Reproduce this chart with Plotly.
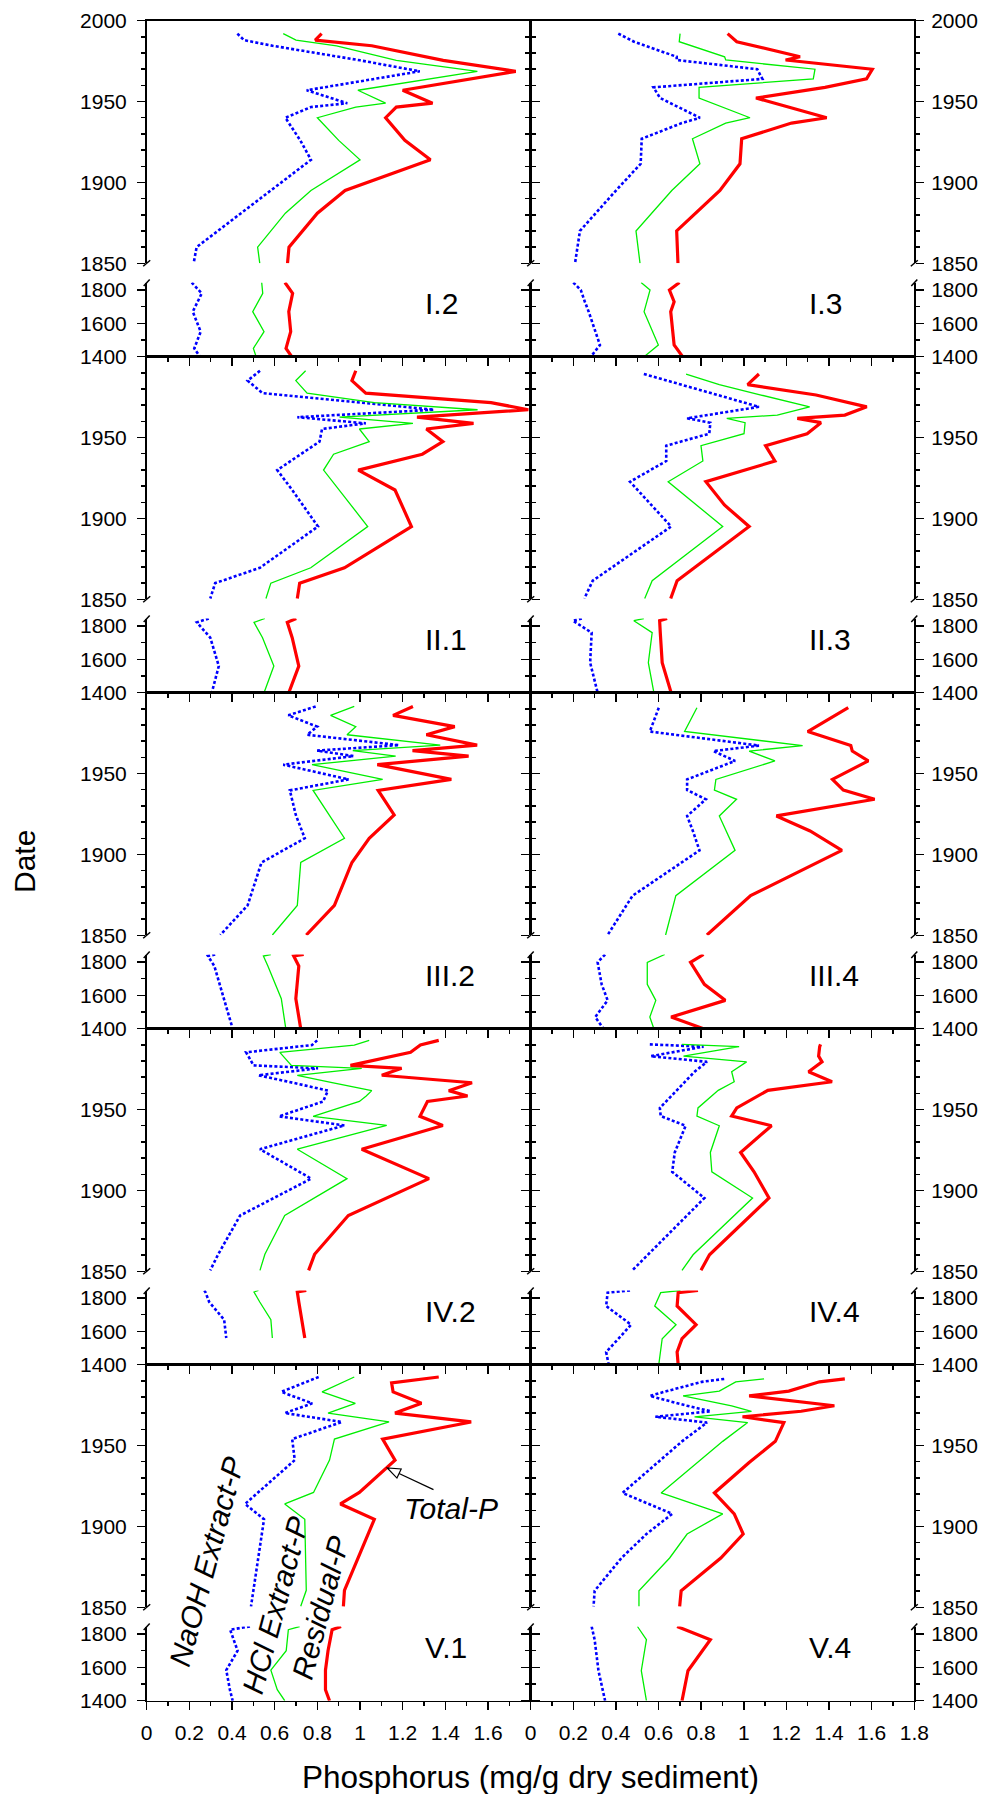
import plotly.graph_objects as go

# ---------------- data ----------------
# naoh = NaOH extract-P (blue dotted), hcl = NaOH+HCl extract-P (green),
# total = Total-P (red). "UP" = 1850-2000 section, "LO" = 1400-1845 section.

I2_YEAR_UP = [1992, 1988, 1984.5, 1975.5, 1968.7, 1957, 1949, 1946.6, 1940, 1926, 1914, 1895, 1881, 1860, 1850]
I2_TOTAL_UP = [0.82, 0.79, 1.055, 1.39, 1.73, 1.20, 1.34, 1.17, 1.12, 1.21, 1.33, 0.93, 0.80, 0.667, 0.66]
I2_HCL_UP = [0.64, 0.70, 0.89, 1.17, 1.55, 0.99, 1.12, 0.98, 0.80, 0.90, 1.00, 0.77, 0.65, 0.52, 0.53]
I2_NAOH_UP = [0.425, 0.456, 0.59, 1.0, 1.28, 0.75, 0.94, 0.77, 0.65, 0.72, 0.77, 0.58, 0.44, 0.234, 0.22]
I2_YEAR_LO = [1845, 1780, 1670, 1550, 1450, 1400]
I2_TOTAL_LO = [0.648, 0.684, 0.666, 0.675, 0.653, 0.68]
I2_HCL_LO = [0.539, 0.544, 0.497, 0.55, 0.50, 0.513]
I2_NAOH_LO = [0.211, 0.258, 0.216, 0.253, 0.223, 0.25]

I3_YEAR_UP = [1992, 1987, 1977.7, 1975.7, 1970, 1964, 1958.8, 1952.2, 1940, 1936.7, 1927, 1911.5, 1895, 1870, 1850]
I3_TOTAL_UP = [0.924, 0.967, 1.264, 1.196, 1.603, 1.576, 1.381, 1.057, 1.389, 1.224, 0.99, 0.982, 0.888, 0.685, 0.691]
I3_HCL_UP = [0.701, 0.697, 0.91, 0.915, 1.334, 1.326, 0.79, 0.79, 1.029, 0.915, 0.759, 0.794, 0.662, 0.494, 0.513]
I3_NAOH_UP = [0.411, 0.485, 0.685, 0.685, 1.063, 1.087, 0.576, 0.607, 0.794, 0.709, 0.521, 0.516, 0.40, 0.231, 0.208]
I3_YEAR_LO = [1845, 1800, 1730, 1670, 1470, 1400]
I3_TOTAL_LO = [0.698, 0.651, 0.673, 0.657, 0.673, 0.713]
I3_HCL_LO = [0.518, 0.56, 0.545, 0.532, 0.599, 0.532]
I3_NAOH_LO = [0.2, 0.235, 0.254, 0.272, 0.325, 0.282]

II1_YEAR_UP = [1991.3, 1985.2, 1977.5, 1971.6, 1967.2, 1962.6, 1958.8, 1955.3, 1947.5, 1939.7, 1929.9, 1917.6, 1895, 1869.5, 1860, 1850.5]
II1_TOTAL_UP = [0.98, 0.962, 1.027, 1.614, 1.789, 1.267, 1.532, 1.311, 1.388, 1.292, 0.992, 1.164, 1.241, 0.927, 0.717, 0.706]
II1_HCL_UP = [0.745, 0.699, 0.752, 1.067, 1.551, 0.904, 1.248, 0.997, 1.043, 0.876, 0.829, 0.901, 1.036, 0.769, 0.582, 0.559]
II1_NAOH_UP = [0.531, 0.473, 0.543, 1.01, 1.346, 0.706, 1.027, 0.822, 0.81, 0.722, 0.612, 0.682, 0.803, 0.531, 0.321, 0.298]
II1_YEAR_LO = [1845, 1822, 1730, 1560, 1400]
II1_TOTAL_LO = [0.701, 0.659, 0.682, 0.713, 0.666]
II1_HCL_LO = [0.554, 0.503, 0.543, 0.596, 0.55]
II1_NAOH_LO = [0.291, 0.235, 0.298, 0.338, 0.305]

II3_YEAR_UP = [1989.3, 1982.7, 1976.3, 1969, 1963.9, 1961.9, 1959.2, 1952.4, 1945, 1935.5, 1922.7, 1908.3, 1895, 1861.5, 1850.5]
II3_TOTAL_UP = [1.071, 1.018, 1.339, 1.577, 1.474, 1.251, 1.362, 1.297, 1.102, 1.146, 0.822, 0.909, 1.025, 0.687, 0.657]
II3_HCL_UP = [0.729, 0.885, 1.081, 1.309, 1.157, 0.92, 1.006, 1.001, 0.799, 0.808, 0.645, 0.778, 0.901, 0.57, 0.535]
II3_NAOH_UP = [0.531, 0.701, 0.878, 1.071, 0.829, 0.734, 0.843, 0.838, 0.636, 0.636, 0.466, 0.568, 0.659, 0.291, 0.252]
II3_YEAR_LO = [1845, 1832, 1760, 1580, 1400]
II3_TOTAL_LO = [0.64, 0.605, 0.608, 0.617, 0.659]
II3_HCL_LO = [0.531, 0.484, 0.57, 0.552, 0.578]
II3_NAOH_LO = [0.24, 0.198, 0.286, 0.279, 0.314]

III2_YEAR_UP = [1991.5, 1986, 1979, 1974, 1967.6, 1964.2, 1960.8, 1955.5, 1946.4, 1939.6, 1924.4, 1910, 1895, 1868.5, 1850.2]
III2_TOTAL_UP = [1.248, 1.155, 1.444, 1.311, 1.549, 1.246, 1.509, 1.081, 1.428, 1.085, 1.16, 1.043, 0.962, 0.88, 0.748]
III2_HCL_UP = [0.973, 0.862, 0.98, 0.939, 1.376, 0.966, 1.167, 0.775, 1.106, 0.78, 0.855, 0.927, 0.722, 0.706, 0.589]
III2_NAOH_UP = [0.792, 0.664, 0.799, 0.752, 1.183, 0.799, 0.969, 0.64, 0.946, 0.671, 0.699, 0.741, 0.538, 0.473, 0.345]
III2_YEAR_LO = [1845, 1836, 1776, 1580, 1400]
III2_TOTAL_LO = [0.736, 0.689, 0.713, 0.699, 0.722]
III2_HCL_LO = [0.582, 0.547, 0.568, 0.631, 0.652]
III2_NAOH_LO = [0.321, 0.287, 0.317, 0.363, 0.403]

III4_YEAR_UP = [1990.7, 1976, 1967.3, 1963.9, 1957.8, 1946.4, 1939.8, 1934.1, 1923.8, 1914.5, 1902.5, 1874.5, 1850.2]
III4_TOTAL_UP = [1.49, 1.3, 1.502, 1.509, 1.584, 1.416, 1.467, 1.614, 1.153, 1.311, 1.46, 1.032, 0.827]
III4_HCL_UP = [0.78, 0.722, 1.276, 1.025, 1.146, 0.869, 0.862, 0.966, 0.885, 0.918, 0.959, 0.681, 0.633]
III4_NAOH_UP = [0.601, 0.559, 1.071, 0.857, 0.959, 0.734, 0.734, 0.822, 0.734, 0.761, 0.792, 0.478, 0.361]
III4_YEAR_LO = [1845, 1798, 1666, 1570, 1470, 1400]
III4_TOTAL_LO = [0.811, 0.75, 0.815, 0.913, 0.659, 0.811]
III4_HCL_LO = [0.629, 0.547, 0.547, 0.587, 0.559, 0.578]
III4_NAOH_LO = [0.349, 0.314, 0.333, 0.361, 0.303, 0.342]

IV2_YEAR_UP = [1992.8, 1989.9, 1985.4, 1977.3, 1975.5, 1971.2, 1966.6, 1961.7, 1958.4, 1955, 1945.8, 1940.2, 1925.5, 1907.3, 1884.5, 1860.5, 1850.6]
IV2_TOTAL_UP = [1.369, 1.283, 1.237, 0.955, 1.195, 1.102, 1.525, 1.416, 1.504, 1.316, 1.281, 1.388, 1.008, 1.323, 0.945, 0.787, 0.759]
IV2_HCL_UP = [1.043, 0.973, 0.624, 0.678, 1.008, 0.706, 0.869, 1.055, 1.029, 0.997, 0.78, 1.125, 0.706, 0.939, 0.647, 0.554, 0.531]
IV2_NAOH_UP = [0.799, 0.775, 0.466, 0.501, 0.803, 0.524, 0.685, 0.85, 0.838, 0.827, 0.62, 0.927, 0.531, 0.771, 0.438, 0.335, 0.298]
IV2_YEAR_LO = [1845, 1836, 1776, 1670, 1560]
IV2_TOTAL_LO = [0.748, 0.706, 0.713, 0.725, 0.741]
IV2_HCL_LO = [0.524, 0.503, 0.53, 0.582, 0.589]
IV2_NAOH_LO = [0.27, 0.275, 0.293, 0.363, 0.373]

IV4_YEAR_UP = [1990.3, 1988.9, 1983, 1979.5, 1973.4, 1967.2, 1961.9, 1951, 1946, 1940, 1923.5, 1911.5, 1895.3, 1860.2, 1850.6]
IV4_TOTAL_UP = [1.36, 1.356, 1.351, 1.367, 1.304, 1.414, 1.113, 0.967, 0.943, 1.13, 0.985, 1.048, 1.118, 0.839, 0.799]
IV4_HCL_UP = [0.71, 0.978, 0.717, 1.013, 0.943, 0.955, 0.88, 0.785, 0.78, 0.885, 0.843, 0.85, 1.041, 0.762, 0.71]
IV4_NAOH_UP = [0.559, 0.811, 0.564, 0.827, 0.769, 0.724, 0.687, 0.606, 0.61, 0.727, 0.676, 0.664, 0.815, 0.547, 0.477]
IV4_YEAR_LO = [1845, 1832, 1752, 1640, 1556, 1476, 1400]
IV4_TOTAL_LO = [0.785, 0.692, 0.687, 0.776, 0.71, 0.687, 0.692]
IV4_HCL_LO = [0.703, 0.61, 0.582, 0.682, 0.617, 0.61, 0.601]
IV4_NAOH_LO = [0.466, 0.361, 0.354, 0.471, 0.412, 0.354, 0.366]

V1_YEAR_UP = [1992.4, 1988.7, 1983.2, 1976.1, 1970.1, 1964.6, 1954, 1941, 1921, 1913.9, 1904.4, 1860.5, 1850.6]
V1_TOTAL_UP = [1.369, 1.148, 1.155, 1.288, 1.164, 1.521, 1.106, 1.164, 0.997, 0.908, 1.067, 0.927, 0.922]
V1_HCL_UP = [0.973, 0.915, 0.822, 0.978, 0.85, 1.136, 0.88, 0.857, 0.782, 0.647, 0.741, 0.748, 0.722]
V1_NAOH_UP = [0.806, 0.734, 0.631, 0.776, 0.647, 0.915, 0.682, 0.694, 0.524, 0.461, 0.55, 0.501, 0.489]
V1_YEAR_LO = [1845, 1826, 1700, 1583, 1466, 1400]
V1_TOTAL_LO = [0.911, 0.869, 0.85, 0.838, 0.838, 0.857]
V1_HCL_LO = [0.717, 0.664, 0.654, 0.582, 0.612, 0.647]
V1_NAOH_LO = [0.484, 0.391, 0.426, 0.373, 0.39, 0.403]

V4_YEAR_UP = [1991.2, 1989.4, 1983.7, 1980.7, 1974.6, 1971.2, 1967.8, 1964.2, 1952.6, 1939.5, 1920.7, 1907.8, 1895.3, 1880.5, 1860.2, 1850.6]
V4_TOTAL_UP = [1.474, 1.355, 1.211, 1.025, 1.425, 1.269, 0.994, 1.188, 1.148, 1.025, 0.862, 0.955, 0.997, 0.892, 0.706, 0.699]
V4_HCL_UP = [1.095, 0.962, 0.885, 0.715, 0.943, 1.036, 0.769, 1.018, 0.901, 0.78, 0.612, 0.901, 0.734, 0.652, 0.508, 0.508]
V4_NAOH_UP = [0.908, 0.803, 0.64, 0.559, 0.734, 0.845, 0.585, 0.827, 0.71, 0.594, 0.431, 0.664, 0.543, 0.426, 0.3, 0.295]
V4_YEAR_LO = [1845, 1766, 1580, 1400]
V4_TOTAL_LO = [0.687, 0.843, 0.738, 0.71]
V4_HCL_LO = [0.501, 0.543, 0.519, 0.543]
V4_NAOH_LO = [0.286, 0.30, 0.318, 0.349]

PANEL_LABELS = ["I.2", "I.3", "II.1", "II.3", "III.2", "III.4", "IV.2", "IV.4", "V.1", "V.4"]
PANEL_DATA = [
    (I2_YEAR_UP, I2_NAOH_UP, I2_HCL_UP, I2_TOTAL_UP, I2_YEAR_LO, I2_NAOH_LO, I2_HCL_LO, I2_TOTAL_LO),
    (I3_YEAR_UP, I3_NAOH_UP, I3_HCL_UP, I3_TOTAL_UP, I3_YEAR_LO, I3_NAOH_LO, I3_HCL_LO, I3_TOTAL_LO),
    (II1_YEAR_UP, II1_NAOH_UP, II1_HCL_UP, II1_TOTAL_UP, II1_YEAR_LO, II1_NAOH_LO, II1_HCL_LO, II1_TOTAL_LO),
    (II3_YEAR_UP, II3_NAOH_UP, II3_HCL_UP, II3_TOTAL_UP, II3_YEAR_LO, II3_NAOH_LO, II3_HCL_LO, II3_TOTAL_LO),
    (III2_YEAR_UP, III2_NAOH_UP, III2_HCL_UP, III2_TOTAL_UP, III2_YEAR_LO, III2_NAOH_LO, III2_HCL_LO, III2_TOTAL_LO),
    (III4_YEAR_UP, III4_NAOH_UP, III4_HCL_UP, III4_TOTAL_UP, III4_YEAR_LO, III4_NAOH_LO, III4_HCL_LO, III4_TOTAL_LO),
    (IV2_YEAR_UP, IV2_NAOH_UP, IV2_HCL_UP, IV2_TOTAL_UP, IV2_YEAR_LO, IV2_NAOH_LO, IV2_HCL_LO, IV2_TOTAL_LO),
    (IV4_YEAR_UP, IV4_NAOH_UP, IV4_HCL_UP, IV4_TOTAL_UP, IV4_YEAR_LO, IV4_NAOH_LO, IV4_HCL_LO, IV4_TOTAL_LO),
    (V1_YEAR_UP, V1_NAOH_UP, V1_HCL_UP, V1_TOTAL_UP, V1_YEAR_LO, V1_NAOH_LO, V1_HCL_LO, V1_TOTAL_LO),
    (V4_YEAR_UP, V4_NAOH_UP, V4_HCL_UP, V4_TOTAL_UP, V4_YEAR_LO, V4_NAOH_LO, V4_HCL_LO, V4_TOTAL_LO),
]

X_TICKS = [0, 0.2, 0.4, 0.6, 0.8, 1.0, 1.2, 1.4, 1.6, 1.8]
X_TICKTEXT = ["0", "0.2", "0.4", "0.6", "0.8", "1", "1.2", "1.4", "1.6", "1.8"]
X_MINOR = [0.1, 0.3, 0.5, 0.7, 0.9, 1.1, 1.3, 1.5, 1.7]
Y_UP_TICKS = [1850, 1900, 1950, 2000]
Y_UP_MINOR = [1860, 1870, 1880, 1890, 1910, 1920, 1930, 1940, 1960, 1970, 1980, 1990]
Y_LO_TICKS = [1400, 1600, 1800]
Y_LO_MINOR = [1500, 1700]

# ---------------- geometry / style ----------------
W, H = 984, 1794
X_EDGES = [146.7, 530.7, 914.3]
ROW_TOP0, ROW_H = 20.7, 336.0
UP_H = 242.6          # 2000 -> 1850
LO_TOP = 261.8        # offset of the 1845 line from the row top
FONT = "Liberation Sans, Arial, Helvetica, sans-serif"

def pxx(x):
    return x / W

def pyy(y):
    return 1 - y / H

fig = go.Figure()
layout = {}
shapes = []
annotations = []

STYLES = [
    dict(color="#0000ff", width=2.6, dash="3px,2.2px"),   # NaOH
    dict(color="#00ee00", width=1.3, dash="solid"),       # NaOH + HCl
    dict(color="#ff0000", width=3.2, dash="solid"),       # Total
]

axis_line = dict(showline=True, linecolor="black", linewidth=1.7, automargin=False,
                 showgrid=False, zeroline=False, fixedrange=True)

for p, data in enumerate(PANEL_DATA):
    r, c = divmod(p, 2)
    row_top = ROW_TOP0 + r * ROW_H
    x0, x1 = X_EDGES[c], X_EDGES[c + 1]
    sections = [
        (data[0], data[1:4], [pyy(row_top + UP_H), pyy(row_top)], [1850, 2000], Y_UP_TICKS, Y_UP_MINOR, "up"),
        (data[4], data[5:8], [pyy(row_top + ROW_H), pyy(row_top + LO_TOP)], [1400, 1845], Y_LO_TICKS, Y_LO_MINOR, "lo"),
    ]
    for s, (years, series, ydom, yrng, yt, ym, kind) in enumerate(sections):
        k = 2 * p + s + 1
        xname = "x" if k == 1 else f"x{k}"
        yname = "y" if k == 1 else f"y{k}"
        for vals, st in zip(series, STYLES):
            fig.add_trace(go.Scatter(
                x=vals, y=years, xaxis=xname, yaxis=yname, mode="lines",
                line=dict(color=st["color"], width=st["width"], dash=st["dash"]),
                showlegend=False, hoverinfo="skip"))
        xa = dict(axis_line, domain=[pxx(x0), pxx(x1)], range=[0, 1.8], anchor=yname)
        if kind == "up":
            xa.update(side="top", ticks="", showticklabels=False)
        else:
            ttext = list(X_TICKTEXT)
            if c == 0:
                ttext[-1] = ""
            xa.update(side="bottom", ticks="outside", ticklen=8, tickwidth=1.5, tickcolor="black",
                      tickmode="array", tickvals=X_TICKS, ticktext=ttext,
                      showticklabels=(r == 4), ticklabelstandoff=4,
                      tickfont=dict(family=FONT, size=21, color="black"),
                      minor=dict(tickmode="array", tickvals=X_MINOR, ticks="outside",
                                 ticklen=4, tickwidth=1.5, tickcolor="black"))
        layout["xaxis" if k == 1 else f"xaxis{k}"] = xa
        ytext = [str(v) for v in yt]
        if kind == "up" and r > 0:
            ytext[-1] = ""      # 2000 coincides with the 1400 line of the row above
        ya = dict(axis_line, domain=ydom, range=yrng, anchor=xname,
                  side=("left" if c == 0 else "right"), mirror="ticks",
                  ticks="outside", ticklen=8, tickwidth=1.5, tickcolor="black",
                  tickmode="array", tickvals=yt, ticktext=ytext,
                  ticklabelstandoff=(6 if c == 0 else 3),
                  tickfont=dict(family=FONT, size=21, color="black"),
                  minor=dict(tickmode="array", tickvals=ym, ticks="outside",
                             ticklen=4, tickwidth=1.5, tickcolor="black"))
        layout["yaxis" if k == 1 else f"yaxis{k}"] = ya

    # panel label
    annotations.append(dict(text=PANEL_LABELS[p], xref="paper", yref="paper",
                            x=pxx(x0 + 276), y=pyy(row_top + 283),
                            xanchor="left", yanchor="middle", showarrow=False,
                            font=dict(family=FONT, size=30, color="black")))

# axis-break marks on every vertical axis line
for r in range(5):
    row_top = ROW_TOP0 + r * ROW_H
    for xe in X_EDGES:
        yb = row_top + UP_H
        shapes.append(dict(type="line", xref="paper", yref="paper",
                           x0=pxx(xe - 3.5), y0=pyy(yb + 3), x1=pxx(xe + 3.5), y1=pyy(yb - 3),
                           line=dict(color="black", width=1.5)))
        yt_ = row_top + LO_TOP
        shapes.append(dict(type="line", xref="paper", yref="paper",
                           x0=pxx(xe - 3), y0=pyy(yt_ + 3.5), x1=pxx(xe + 3), y1=pyy(yt_ - 3),
                           line=dict(color="black", width=1.5)))

# series labels in panel V.1
for txt, cx, cy in [("NaOH Extract-P", 206, 1562), ("HCl Extract-P", 275, 1605), ("Residual-P", 320, 1608)]:
    annotations.append(dict(text=f"<i>{txt}</i>", xref="paper", yref="paper",
                            x=pxx(cx), y=pyy(cy), xanchor="center", yanchor="middle",
                            textangle=-75, showarrow=False,
                            font=dict(family=FONT, size=30, color="black")))
annotations.append(dict(text="<i>Total-P</i>", xref="paper", yref="paper",
                        x=pxx(451), y=pyy(1508), xanchor="center", yanchor="middle",
                        showarrow=False, font=dict(family=FONT, size=30, color="black")))

# arrow with hollow head: tail (433.5,1489.7) -> tip (387.3,1468)
tip = (387.3, 1468.0)
tail = (433.5, 1489.7)
dx, dy = tail[0] - tip[0], tail[1] - tip[1]
ln = (dx * dx + dy * dy) ** 0.5
ux, uy = dx / ln, dy / ln
nx, ny = -uy, ux
bc = (tip[0] + 13 * ux, tip[1] + 13 * uy)
c1 = (bc[0] + 5 * nx, bc[1] + 5 * ny)
c2 = (bc[0] - 5 * nx, bc[1] - 5 * ny)
shapes.append(dict(type="line", xref="paper", yref="paper",
                   x0=pxx(tail[0]), y0=pyy(tail[1]), x1=pxx(bc[0]), y1=pyy(bc[1]),
                   line=dict(color="black", width=1.3)))
shapes.append(dict(type="path", xref="paper", yref="paper",
                   path=f"M {pxx(tip[0])} {pyy(tip[1])} L {pxx(c1[0])} {pyy(c1[1])} L {pxx(c2[0])} {pyy(c2[1])} Z",
                   fillcolor="white", line=dict(color="black", width=1.2)))

# axis titles
annotations.append(dict(text="Date", xref="paper", yref="paper", x=pxx(24), y=pyy(862),
                        xanchor="center", yanchor="middle", textangle=-90, showarrow=False,
                        font=dict(family=FONT, size=30, color="black")))
annotations.append(dict(text="Phosphorus (mg/g dry sediment)", xref="paper", yref="paper",
                        x=pxx(530.7), y=pyy(1777), xanchor="center", yanchor="middle",
                        showarrow=False, font=dict(family=FONT, size=31.5, color="black")))

fig.update_layout(template="none", width=W, height=H,
                  margin=dict(l=0, r=0, t=0, b=0, pad=0), autosize=False,
                  paper_bgcolor="white", plot_bgcolor="white",
                  showlegend=False, shapes=shapes, annotations=annotations,
                  font=dict(family=FONT, color="black"), **layout)

fig.write_html(
    "out.html",
    config={"displayModeBar": False, "staticPlot": True},
    post_script=("document.documentElement.style.margin='0';document.body.style.margin='0';"
                 "document.body.style.padding='0';document.documentElement.style.overflow='hidden';"),
)
